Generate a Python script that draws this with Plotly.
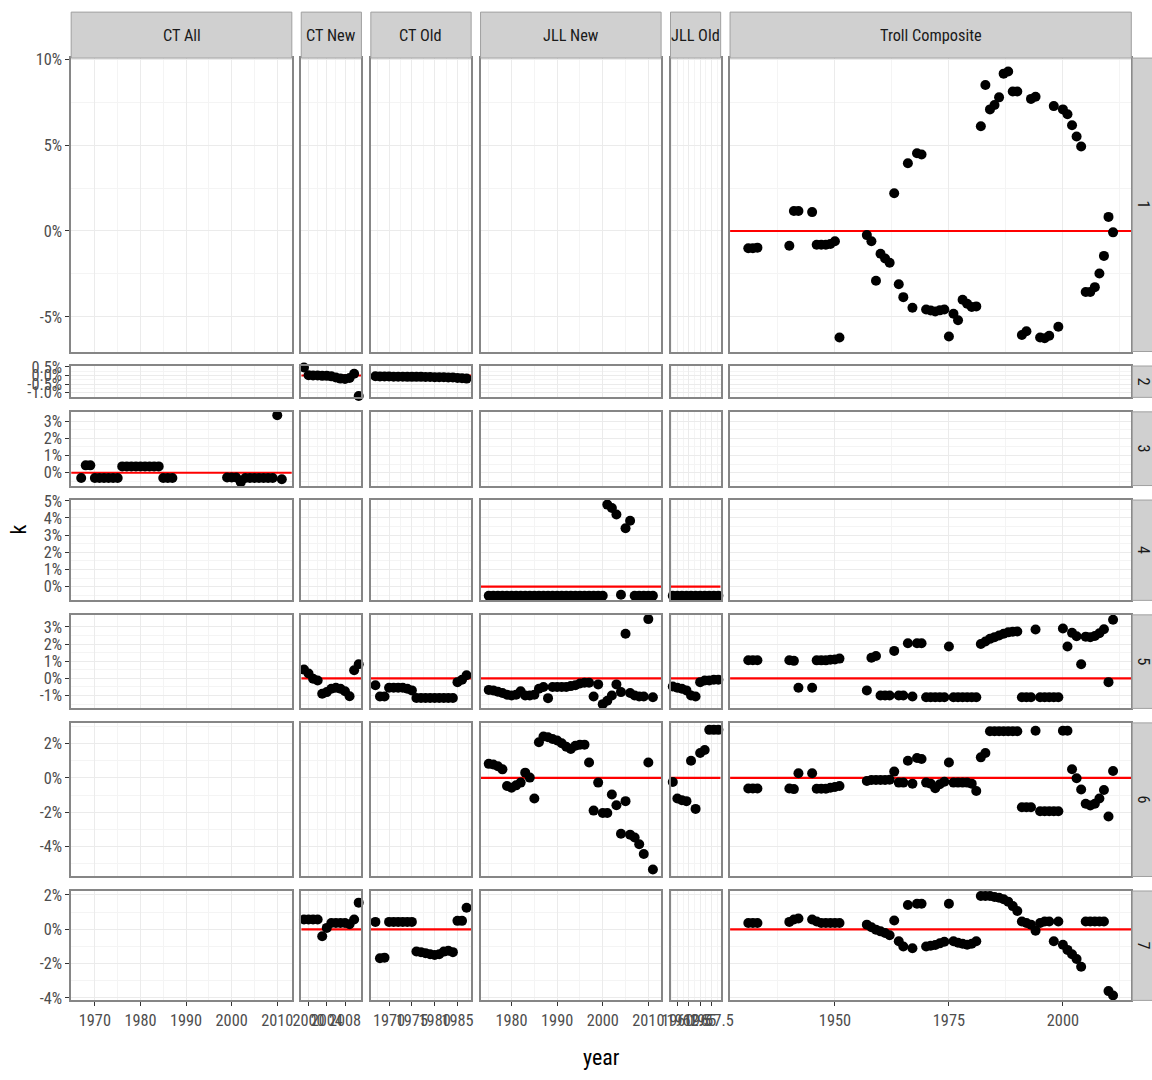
import plotly.graph_objects as go

# ---------------- data ----------------
columns = ["CT All", "CT New", "CT Old", "JLL New", "JLL Old", "Troll Composite"]
row_labels = ["1", "2", "3", "4", "5", "6", "7"]

ct_all_years = [1967, 1968, 1969, 1970, 1971, 1972, 1973, 1974, 1975, 1976, 1977, 1978, 1979,
                1980, 1981, 1982, 1983, 1984, 1985, 1986, 1987,
                1999, 2000, 2001, 2002, 2003, 2004, 2005, 2006, 2007, 2008, 2009, 2010, 2011]
ct_all_k3 = [-0.31, 0.43, 0.43, -0.31, -0.31, -0.31, -0.31, -0.31, -0.31, 0.37, 0.37, 0.37, 0.37,
             0.37, 0.37, 0.37, 0.37, 0.37, -0.31, -0.31, -0.31,
             -0.28, -0.28, -0.28, -0.55, -0.31, -0.31, -0.31, -0.31, -0.31, -0.31, -0.31, 3.35, -0.38]

ct_new_years = [1999, 2000, 2001, 2002, 2003, 2004, 2005, 2006, 2007, 2008, 2009, 2010, 2011]
ct_new_k2 = [0.47, 0.02, 0.0, 0.0, -0.02, -0.02, -0.05, -0.12, -0.18, -0.2, -0.15, 0.1, -1.19]
ct_new_k5 = [0.51, 0.28, -0.02, -0.12, -0.9, -0.8, -0.6, -0.55, -0.6, -0.75, -1.04, 0.47, 0.82]
ct_new_k7 = [0.57, 0.57, 0.57, 0.57, -0.41, 0.08, 0.37, 0.37, 0.37, 0.37, 0.3, 0.57, 1.55]

ct_old_years = [1967, 1968, 1969, 1970, 1971, 1972, 1973, 1974, 1975, 1976, 1977, 1978, 1979,
                1980, 1981, 1982, 1983, 1984, 1985, 1986, 1987]
ct_old_k2 = [-0.04, -0.06, -0.06, -0.06, -0.07, -0.07, -0.07, -0.08, -0.08, -0.08, -0.08, -0.09,
             -0.09, -0.1, -0.1, -0.1, -0.11, -0.12, -0.14, -0.16, -0.18]
ct_old_k5 = [-0.4, -1.05, -1.05, -0.55, -0.55, -0.55, -0.55, -0.6, -0.7, -1.14, -1.14, -1.14, -1.14,
             -1.14, -1.14, -1.14, -1.14, -1.14, -0.22, -0.08, 0.18]
ct_old_k7 = [0.43, -1.69, -1.65, 0.43, 0.43, 0.43, 0.43, 0.43, 0.43, -1.29, -1.33, -1.39, -1.45,
             -1.5, -1.45, -1.3, -1.25, -1.33, 0.49, 0.49, 1.25]

jll_new_years = [1975, 1976, 1977, 1978, 1979, 1980, 1981, 1982, 1983, 1984, 1985, 1986, 1987,
                 1988, 1989, 1990, 1991, 1992, 1993, 1994, 1995, 1996, 1997, 1998, 1999, 2000,
                 2001, 2002, 2003, 2004, 2005, 2006, 2007, 2008, 2009, 2010, 2011]
jll_new_k4 = [-0.53, -0.53, -0.53, -0.53, -0.53, -0.53, -0.53, -0.53, -0.53, -0.53, -0.53, -0.53,
              -0.53, -0.53, -0.53, -0.53, -0.53, -0.53, -0.53, -0.53, -0.53, -0.53, -0.53, -0.53,
              -0.53, -0.53, 4.78, 4.58, 4.2, -0.47, 3.4, 3.84, -0.53, -0.53, -0.53, -0.53, -0.53]
jll_new_k5 = [-0.67, -0.7, -0.78, -0.85, -0.95, -1.0, -0.95, -0.75, -1.0, -1.0, -0.95, -0.6, -0.5,
              -1.15, -0.5, -0.5, -0.5, -0.5, -0.45, -0.4, -0.3, -0.25, -0.25, -1.05, -0.35, -1.5,
              -1.3, -1.0, -0.35, -0.8, 2.6, -0.85, -1.0, -1.05, -1.05, 3.45, -1.1]
jll_new_k6 = [0.82, 0.78, 0.68, 0.5, -0.47, -0.57, -0.43, -0.27, 0.31, 0.02, -1.2, 2.08, 2.41,
              2.37, 2.27, 2.18, 2.02, 1.82, 1.69, 1.88, 1.94, 1.94, 0.9, -1.9, -0.27, -2.04,
              -2.04, -0.96, -1.59, -3.25, -1.35, -3.3, -3.47, -3.86, -4.43, 0.9, -5.33]

jll_old_years = [1959, 1960, 1961, 1962, 1963, 1964, 1965, 1966, 1967, 1968, 1969]
jll_old_k4 = [-0.53, -0.53, -0.53, -0.53, -0.53, -0.53, -0.53, -0.53, -0.53, -0.53, -0.53]
jll_old_k5 = [-0.47, -0.55, -0.6, -0.7, -1.0, -1.06, -0.22, -0.12, -0.12, -0.08, -0.08]
jll_old_k6 = [-0.24, -1.2, -1.3, -1.35, 1.0, -1.8, 1.45, 1.63, 2.8, 2.8, 2.8]

troll_years = [1931, 1932, 1933, 1940, 1941, 1942, 1945, 1946, 1947, 1948, 1949, 1950, 1951,
               1957, 1958, 1959, 1960, 1961, 1962, 1963, 1964, 1965, 1966, 1967, 1968, 1969,
               1970, 1971, 1972, 1973, 1974, 1975, 1976, 1977, 1978, 1979, 1980, 1981, 1982,
               1983, 1984, 1985, 1986, 1987, 1988, 1989, 1990, 1991, 1992, 1993, 1994, 1995,
               1996, 1997, 1998, 1999, 2000, 2001, 2002, 2003, 2004, 2005, 2006, 2007, 2008,
               2009, 2010, 2011]
troll_k1 = [-1.0, -1.0, -0.97, -0.86, 1.16, 1.16, 1.1, -0.8, -0.8, -0.8, -0.75, -0.6, -6.2,
            -0.24, -0.6, -2.9, -1.33, -1.6, -1.85, 2.2, -3.1, -3.85, 3.94, -4.47, 4.53, 4.45,
            -4.57, -4.63, -4.69, -4.62, -4.57, -6.14, -4.82, -5.2, -4.0, -4.24, -4.43, -4.39, 6.1,
            8.5, 7.08, 7.33, 7.78, 9.16, 9.29, 8.12, 8.12, -6.06, -5.84, 7.69, 7.82, -6.2,
            -6.24, -6.1, 7.27, -5.57, 7.08, 6.8, 6.16, 5.5, 4.92, -3.55, -3.55, -3.27, -2.47,
            -1.45, 0.82, -0.08]
troll_k5 = [1.06, 1.06, 1.06, 1.06, 1.02, -0.55, -0.55, 1.05, 1.05, 1.05, 1.08, 1.1, 1.15,
            -0.7, 1.2, 1.3, -1.0, -1.0, -1.0, 1.6, -1.0, -1.0, 2.04, -1.05, 2.04, 2.04,
            -1.1, -1.1, -1.1, -1.1, -1.1, 1.86, -1.1, -1.1, -1.1, -1.1, -1.1, -1.1, 2.0,
            2.15, 2.3, 2.4, 2.5, 2.6, 2.68, 2.72, 2.73, -1.1, -1.1, -1.1, 2.85, -1.1,
            -1.1, -1.1, -1.1, -1.1, 2.9, 1.86, 2.65, 2.45, 0.82, 2.43, 2.39, 2.47, 2.63,
            2.86, -0.22, 3.41]
troll_k6 = [-0.61, -0.61, -0.61, -0.61, -0.65, 0.27, 0.27, -0.63, -0.63, -0.63, -0.57, -0.53, -0.47,
            -0.18, -0.12, -0.12, -0.12, -0.12, -0.1, 0.37, -0.27, -0.27, 1.0, -0.33, 1.16, 1.1,
            -0.27, -0.33, -0.6, -0.37, -0.22, 0.9, -0.27, -0.27, -0.27, -0.27, -0.33, -0.76, 1.2,
            1.45, 2.72, 2.72, 2.72, 2.72, 2.72, 2.72, 2.72, -1.7, -1.7, -1.7, 2.75, -1.94,
            -1.94, -1.94, -1.94, -1.94, 2.75, 2.75, 0.51, -0.02, -0.67, -1.5, -1.6, -1.5, -1.2,
            -0.7, -2.24, 0.41]
troll_k7 = [0.37, 0.37, 0.37, 0.43, 0.57, 0.63, 0.57, 0.45, 0.37, 0.37, 0.37, 0.37, 0.37,
            0.27, 0.12, -0.02, -0.12, -0.22, -0.35, 0.51, -0.7, -1.0, 1.41, -1.1, 1.49, 1.49,
            -1.0, -0.96, -0.92, -0.82, -0.73, 1.49, -0.7, -0.78, -0.84, -0.9, -0.84, -0.7, 1.94,
            1.94, 1.94, 1.88, 1.84, 1.75, 1.61, 1.35, 1.06, 0.45, 0.37, 0.27, -0.08, 0.37,
            0.45, 0.45, -0.7, 0.45, -0.9, -1.2, -1.45, -1.73, -2.18, 0.45, 0.45, 0.45, 0.45,
            0.45, -3.6, -3.85]

# x tick marks per column
x_tick_vals = [[1970, 1980, 1990, 2000, 2010], [2000, 2004, 2008], [1970, 1975, 1980, 1985],
               [1980, 1990, 2000, 2010], [1960, 1962.5, 1965, 1967.5], [1950, 1975, 2000]]
x_tick_text = [["1970", "1980", "1990", "2000", "2010"], ["2000", "2004", "2008"],
               ["1970", "1975", "1980", "1985"], ["1980", "1990", "2000", "2010"],
               ["1960", "1962.5", "1965", "1967.5"], ["1950", "1975", "2000"]]
x_minor_vals = [[1965, 1975, 1985, 1995, 2005], [2002, 2006, 2010],
                [1967.5, 1972.5, 1977.5, 1982.5, 1987.5], [1975, 1985, 1995, 2005],
                [1958.75, 1961.25, 1963.75, 1966.25, 1968.75], [1937.5, 1962.5, 1987.5, 2012.5]]
# y tick marks per row (percent)
y_tick_vals = [[10, 5, 0, -5], [0.5, 0, -0.5, -1.0], [3, 2, 1, 0], [5, 4, 3, 2, 1, 0],
               [3, 2, 1, 0, -1], [2, 0, -2, -4], [2, 0, -2, -4]]
y_tick_text = [["10%", "5%", "0%", "-5%"], ["0.5%", "0.0%", "-0.5%", "-1.0%"],
               ["3%", "2%", "1%", "0%"], ["5%", "4%", "3%", "2%", "1%", "0%"],
               ["3%", "2%", "1%", "0%", "-1%"], ["2%", "0%", "-2%", "-4%"],
               ["2%", "0%", "-2%", "-4%"]]
y_minor_vals = [[7.5, 2.5, -2.5], [0.25, -0.25, -0.75, -1.25], [2.5, 1.5, 0.5, -0.5],
                [4.5, 3.5, 2.5, 1.5, 0.5, -0.5], [2.5, 1.5, 0.5, -0.5, -1.5],
                [3, 1, -1, -3, -5], [1, -1, -3]]
reference_k = 0.0  # red reference line

# panel contents: (row index, column index) -> (years, values)
panels = {
    (0, 5): (troll_years, troll_k1),
    (1, 1): (ct_new_years, ct_new_k2),
    (1, 2): (ct_old_years, ct_old_k2),
    (2, 0): (ct_all_years, ct_all_k3),
    (3, 3): (jll_new_years, jll_new_k4),
    (3, 4): (jll_old_years, jll_old_k4),
    (4, 1): (ct_new_years, ct_new_k5),
    (4, 2): (ct_old_years, ct_old_k5),
    (4, 3): (jll_new_years, jll_new_k5),
    (4, 4): (jll_old_years, jll_old_k5),
    (4, 5): (troll_years, troll_k5),
    (5, 3): (jll_new_years, jll_new_k6),
    (5, 4): (jll_old_years, jll_old_k6),
    (5, 5): (troll_years, troll_k6),
    (6, 1): (ct_new_years, ct_new_k7),
    (6, 2): (ct_old_years, ct_old_k7),
    (6, 5): (troll_years, troll_k7),
}

# ---------------- layout geometry ----------------
# Geometry below is given in target-picture pixels; the rendered page keeps an
# 8px body margin and is photographed slightly reduced (SX, SY), so positions are
# converted to figure pixels before use.
OFF = 8
SX, SY = 0.981, 0.986
W = round(1152 / SX - OFF)
H = round(1080 / SY - OFF)
LEFT, RIGHT, TOP, BOTTOM = 70, 1130, 57, 1000
GAP_X, GAP_Y = 9.4, 14.5
NR, NC = len(row_labels), len(columns)
FS = 16 / SX          # tick / strip font size
FT = 21.5 / SX        # axis-title font size


def px2x(p):
    return (p / SX - OFF) / W


def px2y(p):
    return 1 - (p / SY - OFF) / H


def expand(lo, hi):
    pad = 0.05 * (hi - lo)
    return [lo - pad, hi + pad]


x_ranges = []
for c in range(NC):
    ys = [y for (r, cc), (yy, _) in panels.items() if cc == c for y in yy]
    x_ranges.append(expand(min(ys), max(ys)))
y_ranges = []
for r in range(NR):
    vs = [v for (rr, c), (_, vv) in panels.items() if rr == r for v in vv]
    y_ranges.append(expand(min(vs), max(vs)))

xspan = [b - a for a, b in x_ranges]
yspan = [b - a for a, b in y_ranges]
px_x = ((RIGHT - LEFT) - GAP_X * (NC - 1)) / sum(xspan)
px_y = ((BOTTOM - TOP) - GAP_Y * (NR - 1)) / sum(yspan)
col_px = []
cur = LEFT
for s in xspan:
    col_px.append((cur, cur + s * px_x))
    cur += s * px_x + GAP_X
row_px = []
cur = TOP
for s in yspan:
    row_px.append((cur, cur + s * px_y))
    cur += s * px_y + GAP_Y

FONT = "Liberation Sans Narrow, Arial Narrow, Roboto Condensed, DejaVu Sans Condensed, sans-serif"
BORDER = "#868686"
GRID = "#EBEBEB"
MINOR = "#F4F4F4"

fig = go.Figure()
layout = dict(
    width=W, height=H, autosize=False,
    margin=dict(l=0, r=0, t=0, b=0),
    paper_bgcolor="white", plot_bgcolor="white",
    showlegend=False, hovermode=False,
    font=dict(family=FONT, size=FS, color="#4D4D4D"),
)
shapes = []
annotations = []


def sfx(n):
    return "" if n == 1 else str(n)


for r in range(NR):
    for c in range(NC):
        n = r * NC + c + 1
        x0, x1 = col_px[c]
        y0, y1 = row_px[r]
        layout["xaxis" + sfx(n)] = dict(
            domain=[px2x(x0), px2x(x1)], range=x_ranges[c], anchor="y" + sfx(n),
            showline=True, mirror=True, linecolor=BORDER, linewidth=1.6,
            showgrid=True, gridcolor=GRID, gridwidth=1, zeroline=False,
            tickvals=x_tick_vals[c], ticktext=x_tick_text[c], tickangle=0,
            minor=dict(tickvals=x_minor_vals[c], showgrid=True, gridcolor=MINOR, gridwidth=0.7),
            showticklabels=(r == NR - 1), ticks="outside" if r == NR - 1 else "",
            ticklen=4, tickcolor="#333333", tickwidth=1,
            tickfont=dict(family=FONT, size=FS, color="#4D4D4D"),
            fixedrange=True,
        )
        layout["yaxis" + sfx(n)] = dict(
            domain=[px2y(y1), px2y(y0)], range=y_ranges[r], anchor="x" + sfx(n),
            showline=True, mirror=True, linecolor=BORDER, linewidth=1.6,
            showgrid=True, gridcolor=GRID, gridwidth=1, zeroline=False,
            tickvals=y_tick_vals[r], ticktext=y_tick_text[r], tickangle=0,
            minor=dict(tickvals=y_minor_vals[r], showgrid=True, gridcolor=MINOR, gridwidth=0.7),
            showticklabels=(c == 0), ticks="outside" if c == 0 else "",
            ticklen=4, tickcolor="#333333", tickwidth=1,
            tickfont=dict(family=FONT, size=FS, color="#4D4D4D"),
            fixedrange=True,
        )
        if (r, c) in panels:
            yrs, vals = panels[(r, c)]
            # red reference line across the panel
            fig.add_trace(go.Scatter(x=x_ranges[c], y=[reference_k, reference_k], mode="lines",
                                     xaxis="x" + sfx(n), yaxis="y" + sfx(n),
                                     line=dict(color="#FF0000", width=2.2),
                                     hoverinfo="skip", cliponaxis=True))
            fig.add_trace(go.Scatter(x=yrs, y=vals, mode="markers",
                                     xaxis="x" + sfx(n), yaxis="y" + sfx(n),
                                     marker=dict(color="black", size=10),
                                     hoverinfo="skip", cliponaxis=False))
        else:
            # empty panel: an empty trace so the panel frame and grid are drawn
            fig.add_trace(go.Scatter(x=[None], y=[None], mode="markers",
                                     xaxis="x" + sfx(n), yaxis="y" + sfx(n),
                                     hoverinfo="skip"))

# strips
STRIP_FILL = "#D0D0D0"
STRIP_LINE = "#A0A0A0"
for c, name in enumerate(columns):
    x0, x1 = col_px[c]
    shapes.append(dict(type="rect", xref="paper", yref="paper",
                       x0=px2x(x0), x1=px2x(x1), y0=px2y(TOP), y1=px2y(11),
                       fillcolor=STRIP_FILL, line=dict(color=STRIP_LINE, width=1), layer="above"))
    annotations.append(dict(xref="paper", yref="paper", x=px2x((x0 + x1) / 2), y=px2y(34),
                            text=name, showarrow=False, xanchor="center", yanchor="middle",
                            font=dict(family=FONT, size=FS, color="#1A1A1A")))
for r, lab in enumerate(row_labels):
    y0, y1 = row_px[r]
    shapes.append(dict(type="rect", xref="paper", yref="paper",
                       x0=px2x(RIGHT + 1), x1=1.02, y0=px2y(y1), y1=px2y(y0),
                       fillcolor=STRIP_FILL, line=dict(color=STRIP_LINE, width=1), layer="above"))
    annotations.append(dict(xref="paper", yref="paper", x=px2x(1142), y=px2y((y0 + y1) / 2),
                            text=lab, showarrow=False, textangle=90, xanchor="center",
                            yanchor="middle", font=dict(family=FONT, size=FS, color="#1A1A1A")))

annotations.append(dict(xref="paper", yref="paper", x=px2x((LEFT + RIGHT) / 2), y=px2y(1057),
                        text="year", showarrow=False, xanchor="center", yanchor="middle",
                        font=dict(family=FONT, size=FT, color="#000000")))
annotations.append(dict(xref="paper", yref="paper", x=px2x(17), y=px2y((TOP + BOTTOM) / 2),
                        text="k", showarrow=False, textangle=-90, xanchor="center",
                        yanchor="middle", font=dict(family=FONT, size=FT, color="#000000")))

layout["shapes"] = shapes
layout["annotations"] = annotations
fig.update_layout(**layout)
fig.write_html("out.html")
